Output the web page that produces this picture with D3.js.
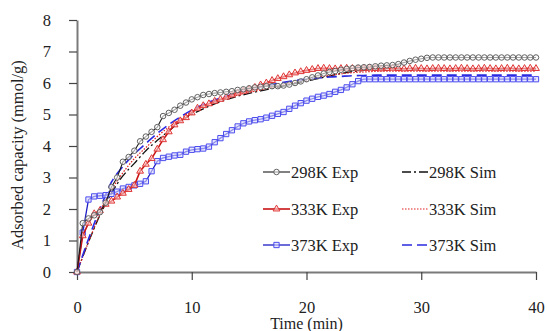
<!DOCTYPE html>
<html>
<head>
  <meta charset="UTF-8">
  <script src="https://d3js.org/d3.v7.min.js"></script>
  <style>
    body { margin: 0; background: #fff; }
  </style>
</head>
<body>
  <div id="chart"></div>
  <script>
    // sampling times (min)
    const expTime = [0,0.5,1,1.5,2,2.5,3,3.5,4,4.5,5,5.5,6,6.5,7,7.5,8,8.5,9,9.5,
      10,10.5,11,11.5,12,12.5,13,13.5,14,14.5,15,15.5,16,16.5,17,17.5,18,18.5,19,19.5,
      20,20.5,21,21.5,22,22.5,23,23.5,24,24.5,25,25.5,26,26.5,27,27.5,28,28.5,29,29.5,
      30,30.5,31,31.5,32,32.5,33,33.5,34,34.5,35,35.5,36,36.5,37,37.5,38,38.5,39,39.5,40];
    const simTime = [0,1,2,3,4,5,6,7,8,9,10,11,12,13,14,15,16,17,18,19,20,21,22,23,24,25,26,28,30,34,40];

    const exp298 = [0,1.55,1.7,1.8,1.9,2.2,2.7,3.0,3.5,3.65,
      3.85,4.15,4.3,4.45,4.6,4.95,5.05,5.15,5.28,5.38,
      5.48,5.55,5.62,5.65,5.68,5.7,5.72,5.74,5.78,5.8,
      5.83,5.86,5.88,5.9,5.9,5.9,5.92,5.95,6.0,6.05,
      6.12,6.18,6.24,6.3,6.35,6.38,6.42,6.45,6.47,6.49,
      6.5,6.51,6.53,6.55,6.56,6.57,6.6,6.65,6.7,6.74,
      6.77,6.8,6.81,6.81,6.81,6.81,6.81,6.81,6.81,6.81,
      6.81,6.81,6.81,6.81,6.81,6.81,6.81,6.81,6.81,6.81,6.81];
    const exp333 = [0,1.15,1.55,1.85,1.95,2.15,2.25,2.38,2.5,2.62,
      2.75,3.2,3.42,3.6,3.9,4.2,4.45,4.67,4.8,4.9,
      5.05,5.2,5.28,5.34,5.42,5.48,5.55,5.62,5.68,5.74,
      5.8,5.86,5.94,6.0,6.08,6.14,6.2,6.26,6.32,6.36,
      6.4,6.43,6.46,6.47,6.46,6.45,6.46,6.47,6.46,6.45,
      6.46,6.47,6.46,6.45,6.46,6.47,6.46,6.45,6.46,6.47,
      6.46,6.45,6.46,6.47,6.46,6.45,6.46,6.47,6.46,6.45,
      6.46,6.47,6.46,6.45,6.46,6.47,6.46,6.45,6.46,6.47,6.46];
    const exp373 = [0,1.25,2.3,2.4,2.42,2.44,2.48,2.55,2.65,2.7,
      2.75,2.8,2.88,3.2,3.52,3.62,3.66,3.7,3.72,3.82,
      3.88,3.9,3.92,3.98,4.12,4.25,4.38,4.5,4.62,4.72,
      4.78,4.82,4.85,4.9,4.96,5.02,5.08,5.18,5.28,5.36,
      5.44,5.5,5.56,5.6,5.65,5.72,5.78,5.86,5.96,6.06,
      6.12,6.12,6.12,6.12,6.12,6.12,6.12,6.12,6.12,6.12,
      6.12,6.12,6.12,6.12,6.12,6.12,6.12,6.12,6.12,6.12,
      6.12,6.12,6.12,6.12,6.12,6.12,6.12,6.12,6.12,6.12,6.12];

    const sim298 = [0,0.95,1.8,2.5,3.05,3.45,3.85,4.18,4.48,4.78,5.0,5.18,5.34,5.47,5.58,5.67,5.75,5.83,5.9,5.98,6.06,6.14,6.22,6.3,6.36,6.4,6.43,6.45,6.45,6.45,6.45];
    const sim333 = [0,0.95,1.85,2.6,3.15,3.6,3.95,4.3,4.6,4.85,5.08,5.25,5.4,5.52,5.62,5.7,5.78,5.86,5.94,6.02,6.1,6.18,6.24,6.29,6.33,6.35,6.37,6.38,6.38,6.38,6.38];
    const sim373 = [0,1.05,2.0,2.85,3.35,3.75,4.08,4.4,4.68,4.92,5.14,5.32,5.46,5.58,5.7,5.8,5.88,5.95,6.02,6.08,6.12,6.16,6.19,6.21,6.23,6.24,6.25,6.25,6.25,6.25,6.25];

    const xTicks = [0, 10, 20, 30, 40];
    const yTicks = [0, 1, 2, 3, 4, 5, 6, 7, 8];

    const serif = "Liberation Serif";
    const W = 547, H = 331;
    const svg = d3.select("#chart").append("svg")
      .attr("width", W).attr("height", H);

    const x = d3.scaleLinear().domain([0, 40]).range([77, 536]);
    const y = d3.scaleLinear().domain([0, 8]).range([272, 20]);

    const axisColor = "#7a7a7a";

    // axes
    const gx = svg.append("g")
      .attr("transform", `translate(0,${y(0)})`)
      .call(d3.axisBottom(x).tickValues(xTicks).tickSize(8).tickSizeOuter(0).tickPadding(21));
    const gy = svg.append("g")
      .attr("transform", `translate(${x(0)},0)`)
      .call(d3.axisLeft(y).tickValues(yTicks).tickSize(8).tickSizeOuter(0).tickPadding(18));
    [gx, gy].forEach(g => {
      g.attr("font-family", null).attr("font-size", null);
      g.select(".domain").attr("stroke", axisColor).attr("stroke-width", 2);
      g.selectAll(".tick line").attr("stroke", "#444").attr("stroke-width", 1.2);
      g.selectAll(".tick text").attr("fill", "#222")
        .attr("font-family", serif).attr("font-size", 16.5);
    });

    svg.append("text")
      .attr("x", (x(0) + x(40)) / 2).attr("y", 329)
      .attr("text-anchor", "middle").attr("fill", "#222")
      .attr("font-family", serif).attr("font-size", 16).text("Time (min)");
    svg.append("text")
      .attr("transform", `translate(23,155) rotate(-90)`)
      .attr("text-anchor", "middle").attr("fill", "#222")
      .attr("font-family", serif).attr("font-size", 16.5).text("Adsorbed capacity (mmol/g)");

    const series = [
      {name: "298K Exp", t: expTime, v: exp298, color: "#1a1a1a", mark: "circle", mcolor: "#606060", width: 1.1},
      {name: "333K Exp", t: expTime, v: exp333, color: "#c81414", mark: "triangle", mcolor: "#e03636", width: 1.6},
      {name: "373K Exp", t: expTime, v: exp373, color: "#1c1cc4", mark: "square", mcolor: "#4c4cee", width: 1.3}
    ];
    const sims = [
      {name: "298K Sim", t: simTime, v: sim298, color: "#111", dash: "9,3,2,3", width: 1.3},
      {name: "333K Sim", t: simTime, v: sim333, color: "#e02020", dash: "1.5,1.5", width: 1.2},
      {name: "373K Sim", t: simTime, v: sim373, color: "#2a2ae0", dash: "10,5", width: 1.6}
    ];

    const line = d3.line().x(d => x(d[0])).y(d => y(d[1]));
    const smooth = d3.line().x(d => x(d[0])).y(d => y(d[1])).curve(d3.curveMonotoneX);

    const symbols = {circle: d3.symbolCircle, triangle: d3.symbolTriangle, square: d3.symbolSquare};
    const symSize = {circle: 24, triangle: 20, square: 28};

    function drawMarker(g, s, px, py) {
      g.append("path")
        .attr("transform", `translate(${px},${py})`)
        .attr("d", d3.symbol().type(symbols[s.mark]).size(symSize[s.mark])())
        .attr("fill", s.mark === "circle" ? "#fff" : (s.mark === "square" ? "#dcdcff" : "#ffd8d8"))
        .attr("fill-opacity", 0.6)
        .attr("stroke", s.mcolor).attr("stroke-width", 1);
    }

    // simulated curves
    sims.forEach(s => {
      svg.append("path")
        .datum(s.t.map((t, i) => [t, s.v[i]]))
        .attr("fill", "none").attr("stroke", s.color)
        .attr("stroke-width", s.width).attr("stroke-dasharray", s.dash)
        .attr("d", smooth);
    });

    // experimental curves
    series.slice().reverse().forEach(s => {
      const pts = s.t.map((t, i) => [t, s.v[i]]);
      const g = svg.append("g");
      g.append("path").datum(pts)
        .attr("fill", "none").attr("stroke", s.color).attr("stroke-width", s.width)
        .attr("d", line);
      pts.forEach(p => drawMarker(g, s, x(p[0]), y(p[1])));
    });

    // legend
    const legendRows = [172, 209, 245];
    const leg = svg.append("g");
    series.forEach((s, i) => {
      const ly = legendRows[i];
      leg.append("line").attr("x1", 263).attr("x2", 290).attr("y1", ly).attr("y2", ly)
        .attr("stroke", s.color).attr("stroke-width", s.width);
      drawMarker(leg, s, 276.5, ly);
      leg.append("text").attr("x", 291).attr("y", ly + 5.5)
        .attr("fill", "#222").attr("font-family", serif).attr("font-size", 16.5).text(s.name);
    });
    sims.forEach((s, i) => {
      const ly = legendRows[i];
      leg.append("line").attr("x1", 402).attr("x2", 428).attr("y1", ly).attr("y2", ly)
        .attr("stroke", s.color).attr("stroke-width", s.width).attr("stroke-dasharray", s.dash);
      leg.append("text").attr("x", 429).attr("y", ly + 5.5)
        .attr("fill", "#222").attr("font-family", serif).attr("font-size", 16.5).text(s.name);
    });
  </script>
</body>
</html>
